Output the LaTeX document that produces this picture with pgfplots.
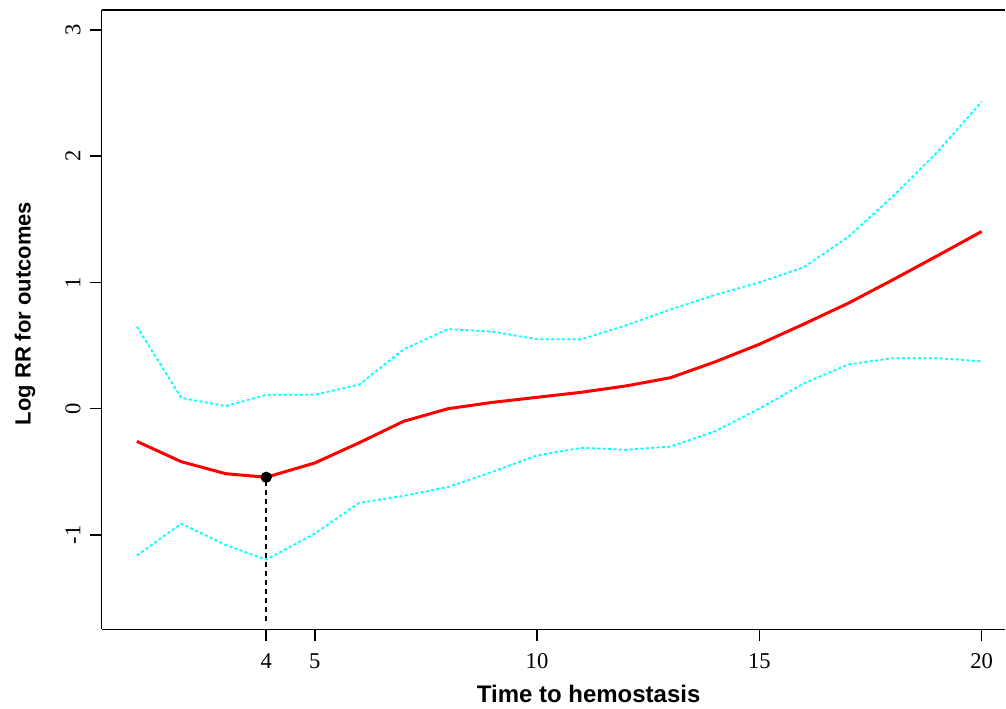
\documentclass[border=0pt]{standalone}
\usepackage{fontspec}
\setmainfont{Liberation Serif}
\newfontfamily\arialfont{Liberation Sans}
\usepackage{pgfplots}
\pgfplotsset{compat=1.18}
\definecolor{ciblue}{RGB}{0,255,255}
\definecolor{estred}{RGB}{255,0,0}

\begin{document}
\begin{tikzpicture}
\begin{axis}[
    name=ax,
    scale only axis,
    width=452.2pt, height=310pt,
    xmin=0.207, xmax=20.53,
    ymin=-1.748, ymax=3.157,
    axis x line*=bottom, axis y line*=left,
    axis line style={-, line width=0.8pt},
    clip=false,
    xtick={3.91,5,10,15,20},
    xticklabels={4,5,10,15,20},
    ytick={-1,0,1,2,3},
    tick align=outside,
    major tick length=5.6pt,
    every tick/.style={black, line width=0.8pt},
    /pgf/number format/assume math mode=true,
    tick label style={font=\fontsize{11.3}{13}\selectfont, inner sep=0pt},
    xticklabel style={anchor=base, yshift=-14pt},
    yticklabel style={rotate=90, anchor=base, yshift=5pt},
    xlabel={\arialfont\bfseries Time to hemostasis},
    xlabel style={at={([yshift=-36.5pt]rel axis cs:0.539,0)}, anchor=base, inner sep=0pt, font=\fontsize{12}{14}\selectfont},
    ylabel={\arialfont\bfseries Log RR for outcomes},
    ylabel style={at={([xshift=-35.5pt]rel axis cs:0,0.51)}, rotate=0, anchor=base, inner sep=0pt, font=\fontsize{11}{13}\selectfont},
]
% upper confidence limit
\addplot[ciblue, line width=0.9pt, dash pattern=on 1.5pt off 1.2pt] coordinates {
    (1,0.65) (2,0.085) (3,0.02) (3.91,0.11) (5,0.11) (6,0.19) (7,0.47)
    (8,0.63) (9,0.61) (10,0.55) (11,0.55) (12,0.66) (13,0.785) (14,0.90)
    (15,1.00) (16,1.12) (17,1.36) (18,1.68) (19,2.03) (20,2.43)
};
% lower confidence limit
\addplot[ciblue, line width=0.9pt, dash pattern=on 1.5pt off 1.2pt] coordinates {
    (1,-1.163) (2,-0.91) (3,-1.08) (3.91,-1.195) (5,-0.99) (6,-0.746) (7,-0.69)
    (8,-0.62) (9,-0.50) (10,-0.37) (11,-0.31) (12,-0.325) (13,-0.30) (14,-0.18)
    (15,0.0) (16,0.2) (17,0.35) (18,0.40) (19,0.40) (20,0.375)
};
% estimate
\addplot[estred, line width=1.5pt] coordinates {
    (1,-0.259) (2,-0.42) (3,-0.515) (3.91,-0.543) (5,-0.43) (6,-0.27) (7,-0.10)
    (8,0.0) (9,0.05) (10,0.09) (11,0.13) (12,0.18) (13,0.245) (14,0.37)
    (15,0.51) (16,0.67) (17,0.835) (18,1.02) (19,1.21) (20,1.403)
};
% inflection point
\addplot[black, line width=1pt, dash pattern=on 2.5pt off 2pt] coordinates {(3.91,-1.68) (3.91,-0.543)};
\addplot[only marks, mark=*, mark size=2.6pt, black] coordinates {(3.91,-0.543)};
\draw[line width=0.8pt] (rel axis cs:0,1) -- (rel axis cs:1,1);
\end{axis}
\path ([xshift=-50.85pt,yshift=-39.5pt]ax.south west) rectangle ([yshift=5pt]ax.north east);
\end{tikzpicture}
\end{document}
